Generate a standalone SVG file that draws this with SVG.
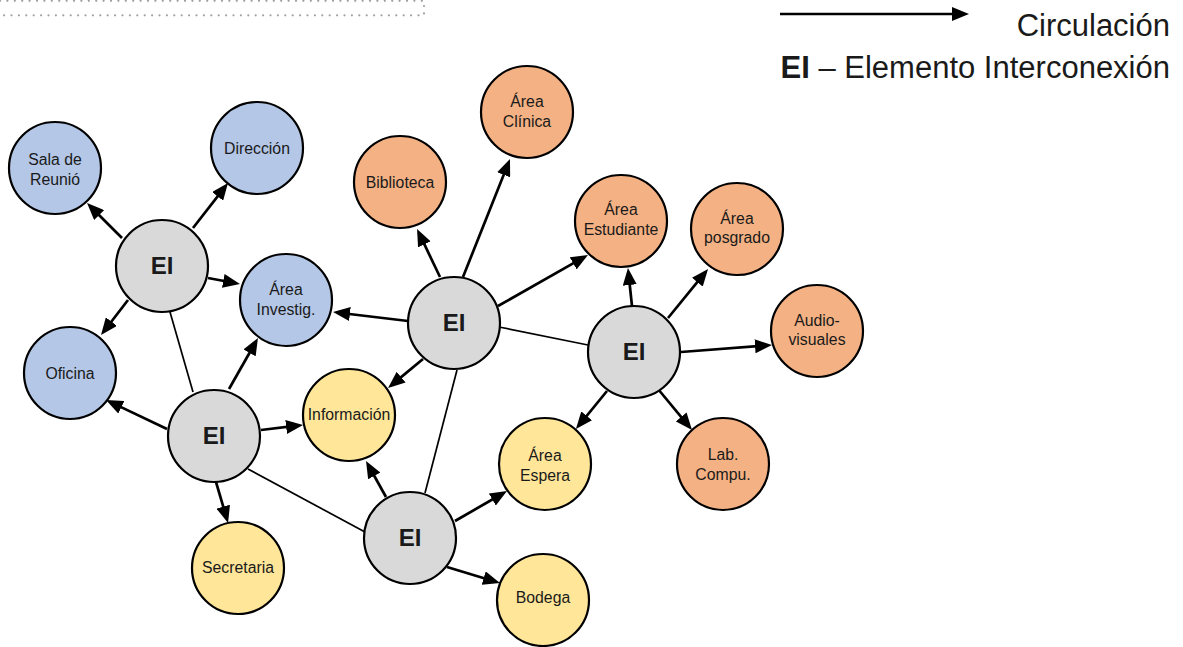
<svg xmlns="http://www.w3.org/2000/svg" width="1183" height="647" viewBox="0 0 1183 647">
<style>
.n{stroke:#000;stroke-width:2.2}
.blue{fill:#B4C7E7}.orange{fill:#F4B183}.yellow{fill:#FFE699}.gray{fill:#D9D9D9}
.lbl{font-family:"Liberation Sans",Arial,sans-serif;font-size:15.8px;fill:#1a1a1a;text-anchor:middle}
.ei{font-family:"Liberation Sans",Arial,sans-serif;font-size:24px;font-weight:bold;fill:#1a1a1a;text-anchor:middle}
.arr{stroke:#000;stroke-width:2.7;fill:none;marker-end:url(#ah)}
.ln{stroke:#000;stroke-width:1.7;fill:none}
.leg{font-family:"Liberation Sans",Arial,sans-serif;font-size:31px;fill:#1a1a1a;text-anchor:end}
</style>
<defs>
<marker id="ah" markerUnits="userSpaceOnUse" markerWidth="17" markerHeight="14" refX="9" refY="7" orient="auto">
<path d="M0,0 L17,7 L0,14 z" fill="#000"/>
</marker>
</defs>
<rect width="1183" height="647" fill="#fff"/>
<path d="M0,0.8 H424 V15.3 H0" fill="none" stroke="#a0a0a0" stroke-width="2.2" stroke-linecap="round" stroke-dasharray="0 7.4"/>
<g id="legend">
<line x1="780" y1="14" x2="961" y2="14" class="arr"/>
<text x="1170" y="36" class="leg">Circulación</text>
<text x="1170" y="78" class="leg"><tspan font-weight="bold">EI</tspan> – Elemento Interconexión</text>
</g>
<g id="connectors">
<line class="ln" x1="170" y1="312" x2="193" y2="392"/>
<line class="ln" x1="248" y1="469" x2="365" y2="532"/>
<line class="ln" x1="499" y1="327" x2="588" y2="345"/>
<line class="ln" x1="457" y1="370" x2="425" y2="493"/>
<line class="arr" x1="122" y1="238" x2="92.7" y2="208.7"/>
<line class="arr" x1="193" y1="228" x2="223.1" y2="189.3"/>
<line class="arr" x1="208" y1="278" x2="232.1" y2="282.5"/>
<line class="arr" x1="128" y1="300" x2="105.9" y2="328.7"/>
<line class="arr" x1="167" y1="429" x2="113.2" y2="403.4"/>
<line class="arr" x1="229" y1="389" x2="254" y2="345"/>
<line class="arr" x1="261" y1="430" x2="295.1" y2="425.9"/>
<line class="arr" x1="216" y1="482" x2="225.8" y2="515.3"/>
<line class="arr" x1="408" y1="321" x2="341" y2="313"/>
<line class="arr" x1="440" y1="277" x2="420.5" y2="236.2"/>
<line class="arr" x1="463" y1="277" x2="507" y2="166.4"/>
<line class="arr" x1="498" y1="306" x2="581" y2="258.9"/>
<line class="arr" x1="423" y1="359" x2="394.2" y2="382.9"/>
<line class="arr" x1="632" y1="306" x2="628.8" y2="276"/>
<line class="arr" x1="668" y1="318" x2="703" y2="275.2"/>
<line class="arr" x1="681" y1="352" x2="764" y2="345.6"/>
<line class="arr" x1="607" y1="391" x2="581" y2="422.8"/>
<line class="arr" x1="658" y1="389" x2="686.9" y2="423.8"/>
<line class="arr" x1="386" y1="497" x2="369.9" y2="468"/>
<line class="arr" x1="455" y1="521" x2="500.1" y2="495"/>
<line class="arr" x1="447" y1="567" x2="492.3" y2="580.7"/>
</g>
<g id="sala"><circle class="n blue" cx="55" cy="168" r="46"/><text class="lbl" x="55" y="165">Sala de</text><text class="lbl" x="55" y="185">Reunió</text></g>
<g id="direccion"><circle class="n blue" cx="257" cy="148" r="46"/><text class="lbl" x="257" y="154">Dirección</text></g>
<g id="investig"><circle class="n blue" cx="286" cy="300" r="46"/><text class="lbl" x="286" y="295">Área</text><text class="lbl" x="286" y="315">Investig.</text></g>
<g id="oficina"><circle class="n blue" cx="70" cy="373" r="46"/><text class="lbl" x="70" y="379">Oficina</text></g>
<g id="informacion"><circle class="n yellow" cx="349" cy="415" r="46"/><text class="lbl" x="349" y="420">Información</text></g>
<g id="secretaria"><circle class="n yellow" cx="238" cy="568" r="46"/><text class="lbl" x="238" y="573">Secretaria</text></g>
<g id="espera"><circle class="n yellow" cx="545" cy="464" r="46"/><text class="lbl" x="545" y="461">Área</text><text class="lbl" x="545" y="481">Espera</text></g>
<g id="bodega"><circle class="n yellow" cx="543" cy="600" r="46"/><text class="lbl" x="543" y="603">Bodega</text></g>
<g id="biblioteca"><circle class="n orange" cx="400" cy="182" r="46"/><text class="lbl" x="400" y="188">Biblioteca</text></g>
<g id="clinica"><circle class="n orange" cx="527" cy="112" r="46"/><text class="lbl" x="527" y="107">Área</text><text class="lbl" x="527" y="127">Clínica</text></g>
<g id="estudiante"><circle class="n orange" cx="621" cy="221" r="46"/><text class="lbl" x="621" y="215">Área</text><text class="lbl" x="621" y="235">Estudiante</text></g>
<g id="posgrado"><circle class="n orange" cx="737" cy="229" r="46"/><text class="lbl" x="737" y="224">Área</text><text class="lbl" x="737" y="243">posgrado</text></g>
<g id="audio"><circle class="n orange" cx="817" cy="331" r="46"/><text class="lbl" x="817" y="326">Audio-</text><text class="lbl" x="817" y="345">visuales</text></g>
<g id="lab"><circle class="n orange" cx="723" cy="464" r="46"/><text class="lbl" x="723" y="460">Lab.</text><text class="lbl" x="723" y="480">Compu.</text></g>
<g id="ei1"><circle class="n gray" cx="162" cy="266" r="46"/><text class="ei" x="162" y="274">EI</text></g>
<g id="ei2"><circle class="n gray" cx="214" cy="436" r="46"/><text class="ei" x="214" y="444">EI</text></g>
<g id="ei3"><circle class="n gray" cx="454" cy="323" r="46"/><text class="ei" x="454" y="331">EI</text></g>
<g id="ei4"><circle class="n gray" cx="634" cy="352" r="46"/><text class="ei" x="634" y="360">EI</text></g>
<g id="ei5"><circle class="n gray" cx="410" cy="538" r="46"/><text class="ei" x="410" y="546">EI</text></g>
</svg>
